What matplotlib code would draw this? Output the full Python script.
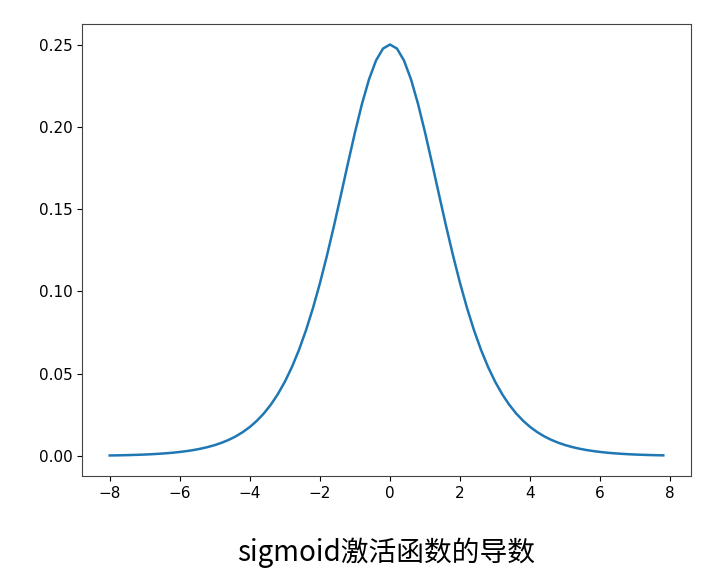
import matplotlib
matplotlib.use("Agg")
import matplotlib.pyplot as plt

# sample points (step 0.2, -8 .. 7.8)
x_vals = [
    -8.0, -7.8, -7.6, -7.4, -7.2, -7.0, -6.8, -6.6, -6.4, -6.2,
    -6.0, -5.8, -5.6, -5.4, -5.2, -5.0, -4.8, -4.6, -4.4, -4.2,
    -4.0, -3.8, -3.6, -3.4, -3.2, -3.0, -2.8, -2.6, -2.4, -2.2,
    -2.0, -1.8, -1.6, -1.4, -1.2, -1.0, -0.8, -0.6, -0.4, -0.2,
    0.0, 0.2, 0.4, 0.6, 0.8, 1.0, 1.2, 1.4, 1.6, 1.8,
    2.0, 2.2, 2.4, 2.6, 2.8, 3.0, 3.2, 3.4, 3.6, 3.8,
    4.0, 4.2, 4.4, 4.6, 4.8, 5.0, 5.2, 5.4, 5.6, 5.8,
    6.0, 6.2, 6.4, 6.6, 6.8, 7.0, 7.2, 7.4, 7.6, 7.8,
]
y_vals = [
    0.00034, 0.00041, 0.00050, 0.00061, 0.00075, 0.00091, 0.00111, 0.00136, 0.00166, 0.00202,
    0.00247, 0.00301, 0.00367, 0.00448, 0.00546, 0.00665, 0.00810, 0.00985, 0.01198, 0.01456,
    0.01766, 0.02140, 0.02589, 0.03125, 0.03763, 0.04518, 0.05404, 0.06436, 0.07626, 0.08980,
    0.10499, 0.12173, 0.13976, 0.15869, 0.17789, 0.19661, 0.21391, 0.22878, 0.24026, 0.24752,
    0.25000, 0.24752, 0.24026, 0.22878, 0.21391, 0.19661, 0.17789, 0.15869, 0.13976, 0.12173,
    0.10499, 0.08980, 0.07626, 0.06436, 0.05404, 0.04518, 0.03763, 0.03125, 0.02589, 0.02140,
    0.01766, 0.01456, 0.01198, 0.00985, 0.00810, 0.00665, 0.00546, 0.00448, 0.00367, 0.00301,
    0.00247, 0.00202, 0.00166, 0.00136, 0.00111, 0.00091, 0.00075, 0.00061, 0.00050, 0.00041,
]
caption = "sigmoid激活函数的导数"

fig = plt.figure(figsize=(7.17, 5.82), dpi=100)
ax = fig.add_axes([0.1144, 0.1821, 0.8493, 0.7767])
ax.plot(x_vals, y_vals, color="#1f77b4", linewidth=1.8)
ax.set_xticks([-8, -6, -4, -2, 0, 2, 4, 6, 8])
ax.set_yticks([0.0, 0.05, 0.10, 0.15, 0.20, 0.25])
ax.tick_params(labelsize=11)
for s in ax.spines.values():
    s.set_color("#444444")

fig.text(0.538, 0.05, caption, ha="center", va="center", fontsize=20,
         family=["Noto Sans CJK SC", "DejaVu Sans"])

fig.savefig("out.png", dpi=100)
